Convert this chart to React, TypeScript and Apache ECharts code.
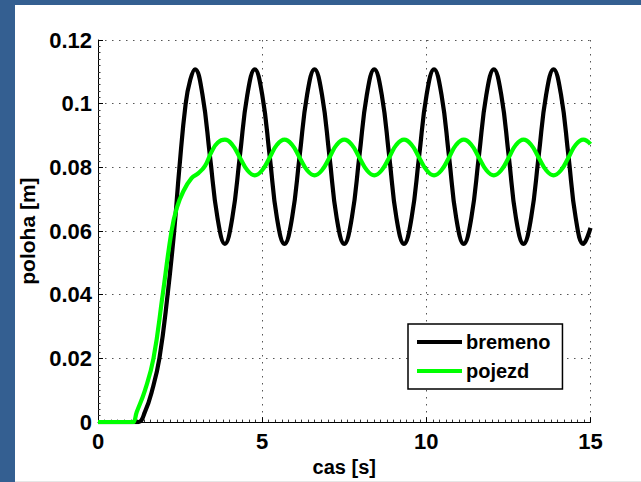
import React, { useEffect, useRef } from "react";
import * as echarts from "echarts";

// Time axis (s) and positions (m)
const bremenoT = [
  0, 1.0, 1.23, 1.43, 1.65, 1.87, 2.12, 2.32, 2.48, 2.67, 2.81, 2.955,
  3.18, 3.41, 3.64, 3.865, 4.09, 4.32, 4.55, 4.775, 5.0, 5.23, 5.45, 5.68,
  5.91, 6.14, 6.37, 6.595, 6.82, 7.05, 7.27, 7.5, 7.73, 7.96, 8.19, 8.415,
  8.64, 8.87, 9.09, 9.32, 9.55, 9.78, 10.01, 10.235, 10.46, 10.69, 10.91,
  11.14, 11.37, 11.6, 11.83, 12.055, 12.28, 12.51, 12.73, 12.96, 13.19,
  13.42, 13.65, 13.875, 14.1, 14.33, 14.55, 14.78, 15.0,
];
const bremenoY = [
  0, 0, 0, 0.0032, 0.01, 0.02, 0.04, 0.06, 0.08, 0.1, 0.1075, 0.1108,
  0.1029, 0.0835, 0.0641, 0.056, 0.0641, 0.0835, 0.1029, 0.1108, 0.1029,
  0.0835, 0.0641, 0.056, 0.0641, 0.0835, 0.1029, 0.1108, 0.1029, 0.0835,
  0.0641, 0.056, 0.0641, 0.0835, 0.1029, 0.1108, 0.1029, 0.0835, 0.0641,
  0.056, 0.0641, 0.0835, 0.1029, 0.1108, 0.1029, 0.0835, 0.0641, 0.056,
  0.0641, 0.0835, 0.1029, 0.1108, 0.1029, 0.0835, 0.0641, 0.056, 0.0641,
  0.0835, 0.1029, 0.1108, 0.1029, 0.0835, 0.0641, 0.056, 0.061,
];
const pojezdT = [
  0, 0.9, 1.06, 1.18, 1.43, 1.69, 1.97, 2.24, 2.4, 2.6, 2.85, 3.06, 3.26,
  3.46, 3.65, 3.865, 4.09, 4.32, 4.55, 4.775, 5.0, 5.23, 5.45, 5.68, 5.91,
  6.14, 6.37, 6.595, 6.82, 7.05, 7.27, 7.5, 7.73, 7.96, 8.19, 8.415, 8.64,
  8.87, 9.09, 9.32, 9.55, 9.78, 10.01, 10.235, 10.46, 10.69, 10.91, 11.14,
  11.37, 11.6, 11.83, 12.055, 12.28, 12.51, 12.73, 12.96, 13.19, 13.42,
  13.65, 13.875, 14.1, 14.33, 14.55, 14.78, 15.0,
];
const pojezdY = [
  0, 0, 0, 0.0032, 0.01, 0.02, 0.04, 0.06, 0.0673, 0.0725, 0.0766, 0.0782,
  0.0805, 0.0849, 0.0878, 0.0887, 0.0871, 0.0831, 0.0791, 0.0775, 0.0791,
  0.0831, 0.0871, 0.0887, 0.0871, 0.0831, 0.0791, 0.0775, 0.0791, 0.0831,
  0.0871, 0.0887, 0.0871, 0.0831, 0.0791, 0.0775, 0.0791, 0.0831, 0.0871,
  0.0887, 0.0871, 0.0831, 0.0791, 0.0775, 0.0791, 0.0831, 0.0871, 0.0887,
  0.0871, 0.0831, 0.0791, 0.0775, 0.0791, 0.0831, 0.0871, 0.0887, 0.0871,
  0.0831, 0.0791, 0.0775, 0.0791, 0.0831, 0.0871, 0.0887, 0.0873,
];
const seriesNames = ["bremeno", "pojezd"];
const xName = "cas [s]";
const yName = "poloha [m]";

const FONT = "'Liberation Sans', Arial, Helvetica, sans-serif";

export default function App() {
  const ref = useRef<HTMLDivElement>(null);

  useEffect(() => {
    document.body.style.margin = "0";
    if (!ref.current) return;
    const chart = echarts.init(ref.current, undefined, { renderer: "svg" });
    const pair = (ts: number[], ys: number[]) => ts.map((t, i) => [t, ys[i]]);
    const gridLine = {
      show: true,
      lineStyle: { color: "#555", width: 1, type: [1.5, 5.5] as any },
    };
    chart.setOption({
      animation: false,
      backgroundColor: "#fff",
      textStyle: { fontFamily: FONT },
      grid: { left: 98, top: 40, width: 492.5, height: 387 },
      legend: {
        data: seriesNames,
        orient: "vertical",
        left: 408,
        top: 324,
        icon: "rect",
        itemWidth: 45,
        itemHeight: 4,
        itemGap: 9,
        padding: [8, 12, 8, 9],
        borderColor: "#000",
        borderWidth: 1.5,
        borderRadius: 0,
        backgroundColor: "#fff",
        textStyle: {
          fontSize: 20,
          fontWeight: "bold",
          color: "#000",
          fontFamily: FONT,
          padding: [0, 0, 0, -1],
        },
      },
      xAxis: {
        type: "value",
        min: 0,
        max: 15,
        interval: 5,
        name: xName,
        nameLocation: "middle",
        nameGap: 33,
        nameTextStyle: { fontSize: 20, fontWeight: "bold", color: "#000", fontFamily: FONT },
        axisLine: { show: true, onZero: false, lineStyle: { color: "#000", width: 1 } },
        axisTick: { show: true, inside: true, length: 5, lineStyle: { color: "#000" } },
        minorTick: { show: true, splitNumber: 25, length: 2.5, lineStyle: { color: "#333" } },
        axisLabel: {
          fontSize: 22,
          fontWeight: "bold",
          color: "#000",
          margin: 8,
          fontFamily: FONT,
        },
        splitLine: gridLine,
      },
      yAxis: {
        type: "value",
        min: 0,
        max: 0.12,
        interval: 0.02,
        name: yName,
        nameLocation: "middle",
        nameGap: 58,
        nameTextStyle: { fontSize: 21, fontWeight: "bold", color: "#000", fontFamily: FONT },
        axisLine: { show: true, onZero: false, lineStyle: { color: "#000", width: 1 } },
        axisTick: { show: true, inside: true, length: 5, lineStyle: { color: "#000" } },
        minorTick: { show: true, splitNumber: 10, length: 2.5, lineStyle: { color: "#333" } },
        axisLabel: {
          fontSize: 22,
          fontWeight: "bold",
          color: "#000",
          margin: 6,
          fontFamily: FONT,
        },
        splitLine: gridLine,
      },
      series: [
        {
          name: seriesNames[0],
          type: "line",
          data: pair(bremenoT, bremenoY),
          showSymbol: false,
          smooth: 0.45,
          color: "#000",
          lineStyle: { color: "#000", width: 4.2 },
        },
        {
          name: seriesNames[1],
          type: "line",
          data: pair(pojezdT, pojezdY),
          showSymbol: false,
          smooth: 0.45,
          color: "#00ff00",
          lineStyle: { color: "#00ff00", width: 4.2 },
        },
      ],
    });
    return () => chart.dispose();
  }, []);

  return (
    <div style={{ position: "relative", width: 641, height: 482, background: "#fff", overflow: "hidden" }}>
      <div ref={ref} style={{ position: "absolute", left: 0, top: 0, width: 641, height: 482 }} />
      <div style={{ position: "absolute", left: 0, top: 0, width: 641, height: 5, background: "#345f91" }} />
      <div style={{ position: "absolute", left: 0, top: 0, width: 15, height: 482, background: "#345f91" }} />
      <div style={{ position: "absolute", left: 15, top: 481, width: 626, height: 1, background: "#e6e6e6" }} />
    </div>
  );
}
